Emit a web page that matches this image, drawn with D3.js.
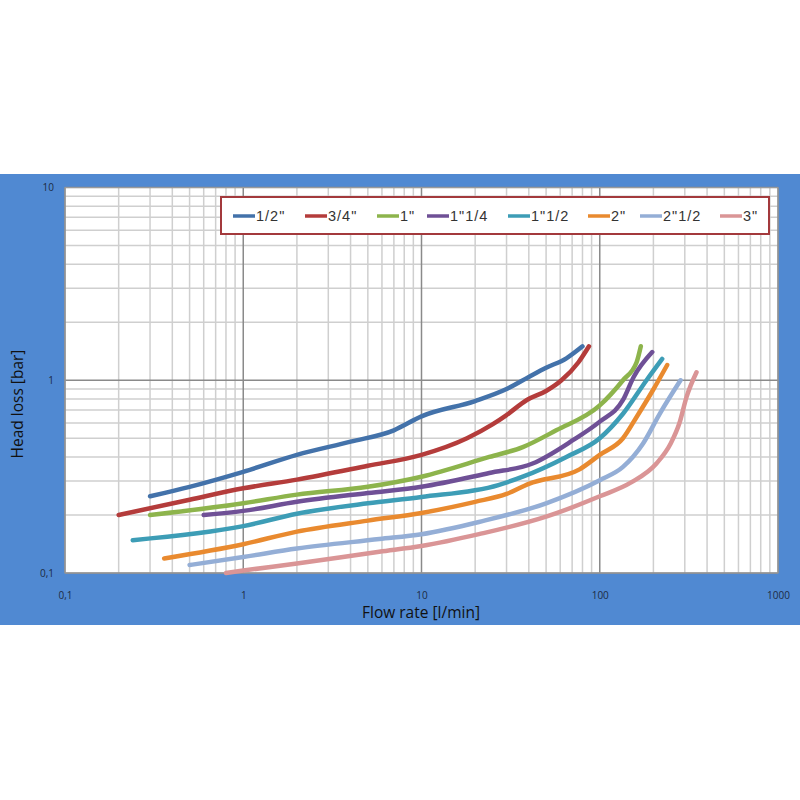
<!DOCTYPE html>
<html><head><meta charset="utf-8">
<script src="https://cdn.jsdelivr.net/npm/d3@7"></script>
<style>body{margin:0;background:#fff}svg{display:block}</style>
</head><body>
<svg id="c" width="800" height="800"></svg>
<script>
const seriesNames = ['1/2"', '3/4"', '1"', '1"1/4', '1"1/2', '2"', '2"1/2', '3"'];
const seriesColors = ['#4372aa', '#b43c3b', '#8db44c', '#6f5096', '#3d9db6', '#e98a2f', '#94aed6', '#da9596'];
const s_12 = [[0.3,0.25],[0.5,0.28],[1,0.335],[2,0.41],[4,0.48],[7,0.55],[10,0.65],[20,0.78],[30,0.9],[40,1.04],[50,1.16],[65,1.3],[80,1.5]];
const s_34 = [[0.2,0.2],[0.5,0.24],[1,0.275],[2,0.305],[5,0.36],[10,0.41],[18,0.5],[25,0.59],[30,0.66],[39,0.79],[50,0.88],[61,1.0],[76,1.24],[87,1.5]];
const s_1 = [[0.3,0.2],[1,0.23],[2,0.255],[5,0.28],[10,0.316],[24,0.40],[37,0.45],[57,0.55],[100,0.74],[135,1.0],[161,1.24],[170,1.5]];
const s_114 = [[0.6,0.2],[1,0.21],[2,0.234],[5,0.26],[10,0.28],[24,0.33],[42,0.37],[71,0.49],[100,0.61],[135,0.79],[155,1.04],[197,1.4]];
const s_112 = [[0.24,0.148],[1,0.175],[2,0.203],[5,0.23],[10,0.248],[27,0.286],[37,0.316],[65,0.40],[100,0.5],[135,0.67],[183,1.0],[224,1.29]];
const s_2 = [[0.36,0.119],[1,0.141],[2,0.164],[5,0.187],[10,0.205],[20,0.234],[30,0.257],[40,0.29],[77,0.345],[100,0.41],[135,0.5],[161,0.645],[199,0.89],[239,1.2]];
const s_212 = [[0.5,0.11],[1,0.121],[2,0.134],[5.8,0.15],[10,0.159],[21,0.184],[50,0.23],[100,0.303],[135,0.355],[175,0.47],[217,0.67],[284,1.0]];
const s_3 = [[0.8,0.1],[1,0.103],[2,0.112],[5.8,0.129],[10,0.138],[21,0.159],[50,0.196],[100,0.25],[150,0.295],[208,0.37],[250,0.47],[280,0.6],[307,0.82],[349,1.1]];
const seriesData = [s_12, s_34, s_1, s_114, s_112, s_2, s_212, s_3];
const xTickValues = [0.1, 1, 10, 100, 1000];
const xTickLabels = ['0,1', '1', '10', '100', '1000'];
const yTickValues = [0.1, 1, 10];
const yTickLabels = ['0,1', '1', '10'];

const svg = d3.select('#c');
const L = 65, R = 778, T = 187.5, B = 573;
const x = d3.scaleLog().domain([0.1, 1000]).range([L, R]);
const y = d3.scaleLog().domain([0.1, 10]).range([B, T]);

svg.append('rect').attr('x', 0).attr('y', 174).attr('width', 800).attr('height', 451).attr('fill', '#5089d2');
svg.append('rect').attr('x', L).attr('y', T).attr('width', R - L).attr('height', B - T).attr('fill', '#fff');

const minorX = [], minorY = [];
for (let d = 0.1; d < 1000; d *= 10) for (let k = 2; k <= 9; k++) minorX.push(d * k);
for (let d = 0.1; d < 10; d *= 10) for (let k = 2; k <= 9; k++) minorY.push(d * k);
const g = svg.append('g');
g.selectAll('.mx').data(minorX).join('line').attr('x1', d => x(d)).attr('x2', d => x(d)).attr('y1', T).attr('y2', B).attr('stroke', '#cfcfcf').attr('stroke-width', 1.5);
g.selectAll('.my').data(minorY).join('line').attr('y1', d => y(d)).attr('y2', d => y(d)).attr('x1', L).attr('x2', R).attr('stroke', '#cfcfcf').attr('stroke-width', 1.5);
g.selectAll('.Mx').data(xTickValues).join('line').attr('x1', d => x(d)).attr('x2', d => x(d)).attr('y1', T).attr('y2', B).attr('stroke', '#8a8a8a').attr('stroke-width', 1.5);
g.selectAll('.My').data(yTickValues).join('line').attr('y1', d => y(d)).attr('y2', d => y(d)).attr('x1', L).attr('x2', R).attr('stroke', '#8a8a8a').attr('stroke-width', 1.5);
svg.append('rect').attr('x', L).attr('y', T).attr('width', R - L).attr('height', B - T).attr('fill', 'none').attr('stroke', '#9a9a9a').attr('stroke-width', 1);

const xa = svg.append('g').attr('transform', `translate(0,${B + 20})`)
  .call(d3.axisBottom(x).tickValues(xTickValues).tickFormat((d, i) => xTickLabels[i]).tickSize(0));
xa.select('.domain').remove();
xa.selectAll('text').attr('font-family', 'Open Sans, sans-serif').attr('font-size', 10).attr('fill', '#1c2b44').attr('dy', '0.3em');
const ya = svg.append('g').attr('transform', `translate(${L - 8},0)`)
  .call(d3.axisLeft(y).tickValues(yTickValues).tickFormat((d, i) => yTickLabels[i]).tickSize(0));
ya.select('.domain').remove();
ya.selectAll('text').attr('font-family', 'Open Sans, sans-serif').attr('font-size', 10).attr('fill', '#1c2b44');

svg.append('text').attr('x', 421).attr('y', 618).attr('text-anchor', 'middle')
  .attr('font-family', 'Open Sans, sans-serif').attr('font-size', 15.5).attr('fill', '#111').text('Flow rate [l/min]');
svg.append('text').attr('transform', 'translate(23,404) rotate(-90)').attr('text-anchor', 'middle')
  .attr('font-family', 'Open Sans, sans-serif').attr('font-size', 15.5).attr('fill', '#111').text('Head loss [bar]');

const line = d3.line().x(d => x(d[0])).y(d => y(d[1])).curve(d3.curveMonotoneX);
svg.append('g').selectAll('path').data(seriesData).join('path')
  .attr('d', line).attr('fill', 'none')
  .attr('stroke', (d, i) => seriesColors[i]).attr('stroke-width', 4.5)
  .attr('stroke-linecap', 'round').attr('stroke-linejoin', 'round');

svg.append('rect').attr('x', 221).attr('y', 197).attr('width', 548).attr('height', 37)
  .attr('fill', '#fff').attr('stroke', '#a3393c').attr('stroke-width', 2);
const legX = [233, 305, 377, 427, 508, 588, 640, 720];
const lg = svg.append('g').selectAll('g').data(seriesNames).join('g')
  .attr('transform', (d, i) => `translate(${legX[i]},216)`);
lg.append('line').attr('x1', 0).attr('x2', 22).attr('stroke', (d, i) => seriesColors[i]).attr('stroke-width', 3.5);
lg.append('text').attr('x', 23).attr('dy', '0.36em').attr('font-family', 'Liberation Sans, Arial, sans-serif')
  .attr('font-size', 14.5).attr('letter-spacing', 1).attr('fill', '#333').text(d => d);
</script>
</body></html>
